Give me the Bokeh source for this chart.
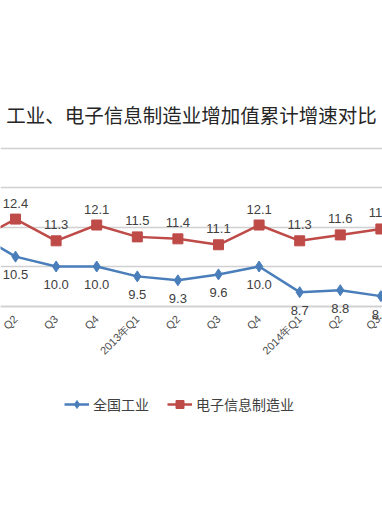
import math
from bokeh.plotting import figure
from bokeh.models import ColumnDataSource, Range1d, LabelSet, Legend, LegendItem, FixedTicker
from bokeh.core.properties import value
from bokeh.embed import file_html
from bokeh.resources import INLINE

quarters = ["2012年Q1", "Q2", "Q3", "Q4", "2013年Q1", "Q2", "Q3", "Q4", "2014年Q1", "Q2", "Q3"]
national = [11.7, 10.5, 10.0, 10.0, 9.5, 9.3, 9.6, 10.0, 8.7, 8.8, 8.5]
electronic = [11.3, 12.4, 11.3, 12.1, 11.5, 11.4, 11.1, 12.1, 11.3, 11.6, 11.9]
y_ticks = [8, 10, 12, 14, 16]
series_names = ["全国工业", "电子信息制造业"]

BLUE = "#4A7EBB"
RED = "#BE4B48"

# layout (pixels)
FRAME_TOP = 146
FRAME_H = 279
PX_PER_UNIT = 19.75
y_top = max(y_ticks) + 1.5 / PX_PER_UNIT
y_bottom = y_top - FRAME_H / PX_PER_UNIT

xs = list(range(len(quarters)))
src = ColumnDataSource(dict(
    x=xs, nat=national, ele=electronic,
    nat_lbl=[f"{v:.1f}" for v in national],
    ele_lbl=[f"{v:.1f}" for v in electronic],
))

p = figure(frame_width=382, frame_height=FRAME_H, output_backend="svg", toolbar_location=None,
           x_range=Range1d(0.63, 10.04), y_range=Range1d(y_bottom, y_top),
           min_border_left=0, min_border_right=0, min_border_top=FRAME_TOP, min_border_bottom=0,
           title="工业、电子信息制造业增加值累计增速对比")
p.outline_line_color = None
p.background_fill_color = "white"

p.title.align = "center"
p.title.text_font = "Noto Sans CJK SC"
p.title.text_font_size = "19.5px"
p.title.text_font_style = "normal"
p.title.text_color = "#262626"
p.title.standoff = 35

p.yaxis.visible = False
p.xgrid.visible = False
p.ygrid.ticker = FixedTicker(ticks=y_ticks)
p.ygrid.grid_line_color = "#D0D0D0"
p.ygrid.grid_line_width = 1.5

ax = p.xaxis[0]
ax.fixed_location = min(y_ticks)
ax.ticker = FixedTicker(ticks=xs)
ax.major_label_overrides = {i: q for i, q in enumerate(quarters)}
ax.major_label_orientation = math.pi / 4
ax.major_label_text_font = "Liberation Sans"
ax.major_label_text_font_size = "11px"
ax.major_label_text_color = "#4D4D4D"
ax.major_label_standoff = 5
ax.major_tick_line_color = None
ax.minor_tick_line_color = None
ax.axis_line_color = "#D0D0D0"
ax.axis_line_width = 1.5

l_nat = p.line("x", "nat", source=src, line_color=BLUE, line_width=2.5)
m_nat = p.scatter("x", "nat", source=src, marker="diamond", size=11,
                  fill_color=BLUE, line_color=BLUE)
l_ele = p.line("x", "ele", source=src, line_color=RED, line_width=2.5)
m_ele = p.scatter("x", "ele", source=src, marker="square", size=10,
                  fill_color=RED, line_color=RED)

lbl_ele = LabelSet(x="x", y="ele", text="ele_lbl", source=src, y_offset=16,
                   text_align="center", text_baseline="middle",
                   text_font=value("Liberation Sans"), text_font_size="13px",
                   text_color="#404040")
lbl_nat = LabelSet(x="x", y="nat", text="nat_lbl", source=src, y_offset=-18,
                   text_align="center", text_baseline="middle",
                   text_font=value("Liberation Sans"), text_font_size="13px",
                   text_color="#404040")
p.add_layout(lbl_ele)
p.add_layout(lbl_nat)

legend = Legend(items=[
    LegendItem(label=series_names[0], renderers=[l_nat, m_nat]),
    LegendItem(label=series_names[1], renderers=[l_ele, m_ele]),
], orientation="horizontal", location=(64, 11))
legend.label_text_font = "Noto Sans CJK SC"
legend.label_text_font_size = "14px"
legend.label_text_color = "#404040"
legend.glyph_width = 25
legend.label_standoff = 4
legend.spacing = 18
legend.border_line_color = None
legend.background_fill_alpha = 0
legend.padding = 4
legend.margin = 0
p.add_layout(legend)

open("out.html", "w").write(file_html(p, INLINE))
